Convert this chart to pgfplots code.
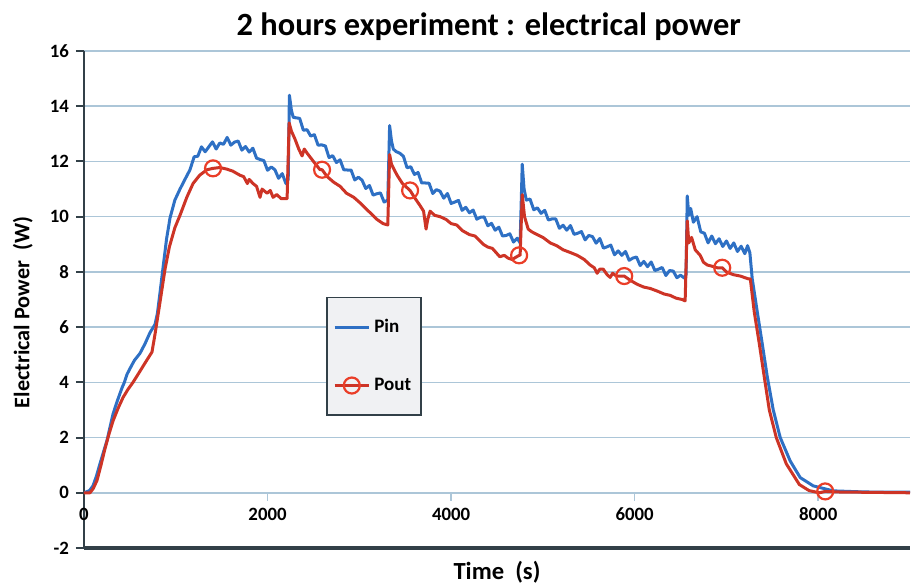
\documentclass[border=0pt]{standalone}
\usepackage{fontspec}
\setmainfont{Carlito}
\usepackage{pgfplots}
\usepackage{pgfplotstable}
\pgfplotsset{compat=1.18}

\definecolor{pinblue}{RGB}{46,112,196}
\definecolor{poutred}{RGB}{205,52,38}
\definecolor{markred}{RGB}{234,62,40}
\definecolor{gridc}{RGB}{172,198,216}
\definecolor{axdark}{RGB}{50,64,72}
\definecolor{legfill}{RGB}{240,241,243}

% Input electrical power (W) against time (s)
\pgfplotstableread{
t p
0 0
60 0.08
98 0.25
135 0.6
174 1.05
210 1.45
251 1.9
285 2.4
316 2.85
360 3.3
414 3.8
440 4.0
470 4.3
501 4.5
550 4.8
610 5.05
665 5.4
719 5.8
774 6.1
800 6.5
830 7.3
870 8.4
900 9.2
937 9.95
990 10.6
1046 11.0
1100 11.35
1155 11.7
1200 12.17
1240 12.19
1280 12.53
1320 12.35
1360 12.53
1400 12.71
1440 12.45
1480 12.67
1520 12.62
1560 12.87
1600 12.59
1640 12.70
1680 12.74
1720 12.41
1760 12.54
1800 12.34
1840 12.48
1880 12.12
1920 12.07
1960 12.03
2000 11.68
2040 11.80
2080 11.70
2120 11.39
2160 11.56
2200 11.2
2225 11.35
2238 14.4
2260 13.85
2280 13.6
2310 13.58
2350 13.56
2390 13.13
2430 13.15
2470 12.92
2510 12.97
2550 12.59
2590 12.60
2630 12.56
2670 12.14
2710 12.21
2750 11.96
2790 12.06
2830 11.70
2870 11.69
2910 11.69
2950 11.33
2990 11.43
3030 11.32
3070 11.02
3110 11.13
3150 10.78
3190 10.83
3230 10.86
3270 10.53
3310 10.6
3330 13.3
3350 12.75
3370 12.45
3400 12.36
3440 12.30
3480 12.19
3520 11.77
3560 11.81
3600 11.53
3640 11.60
3680 11.22
3720 11.22
3760 11.21
3800 10.84
3840 10.98
3880 10.92
3920 10.67
3960 10.84
4000 10.48
4040 10.53
4080 10.59
4120 10.23
4160 10.34
4200 10.14
4240 10.24
4280 9.91
4320 9.98
4360 9.99
4400 9.67
4440 9.76
4480 9.51
4520 9.62
4560 9.30
4600 9.32
4640 9.38
4680 9.08
4720 9.22
4752 9.05
4775 11.9
4795 11.0
4820 10.6
4860 10.64
4900 10.25
4940 10.32
4980 10.12
5020 10.23
5060 9.88
5100 9.92
5140 9.92
5180 9.58
5220 9.69
5260 9.51
5300 9.68
5340 9.36
5380 9.40
5420 9.46
5460 9.16
5500 9.32
5540 9.28
5580 9.04
5620 9.21
5660 8.86
5700 8.91
5740 8.97
5780 8.62
5820 8.76
5860 8.60
5900 8.74
5940 8.42
5980 8.50
6020 8.54
6060 8.23
6100 8.38
6140 8.19
6180 8.36
6220 8.05
6260 8.10
6300 8.16
6340 7.87
6380 8.05
6420 8.03
6460 7.79
6500 7.88
6540 7.78
6560 7.9
6573 10.75
6590 10.05
6610 10.3
6640 9.8
6680 10.0
6720 9.45
6760 9.4
6800 9.05
6840 9.3
6880 9.02
6920 9.2
6960 8.92
7000 9.12
7040 8.85
7080 9.05
7120 8.74
7160 8.93
7200 8.66
7230 8.95
7255 8.7
7281 7.75
7336 6.55
7390 5.4
7445 4.2
7510 3.0
7586 2.0
7695 1.15
7804 0.55
7946 0.25
8164 0.07
8500 0.03
9000 0.02
}\pintable

% Output electrical power (W) against time (s)
\pgfplotstableread{
t p
0 0
65 0.0
100 0.15
142 0.45
185 1.0
229 1.6
270 2.1
316 2.6
370 3.05
425 3.45
480 3.75
534 4.0
600 4.35
665 4.7
741 5.1
774 5.75
800 6.3
828 6.9
860 7.6
883 8.1
930 8.9
990 9.6
1046 10.05
1120 10.7
1188 11.2
1260 11.5
1340 11.7
1406 11.75
1480 11.78
1559 11.72
1620 11.65
1700 11.5
1740 11.45
1780 11.2
1800 11.35
1842 11.2
1880 11.1
1918 10.7
1940 11.0
1995 10.85
2030 10.95
2060 10.7
2100 10.8
2150 10.65
2213 10.65
2235 13.4
2260 13.1
2300 12.8
2340 12.45
2376 12.2
2400 12.45
2431 12.3
2500 12.0
2572 11.7
2594 11.7
2650 11.45
2720 11.25
2790 11.1
2860 10.85
2940 10.7
3008 10.5
3100 10.2
3193 9.9
3258 9.75
3310 9.7
3330 12.25
3350 11.9
3380 11.7
3412 11.5
3470 11.2
3553 10.95
3600 10.7
3662 10.4
3700 10.2
3727 9.55
3745 9.9
3771 10.2
3820 10.05
3880 10.0
3945 9.9
4000 9.75
4060 9.7
4120 9.5
4200 9.35
4260 9.3
4305 9.15
4350 9.0
4400 8.9
4450 8.85
4490 8.7
4530 8.55
4580 8.6
4620 8.5
4665 8.45
4741 8.6
4752 8.6
4775 10.8
4800 10.0
4840 9.55
4880 9.45
4938 9.35
5000 9.25
5080 9.05
5150 8.95
5221 8.8
5300 8.7
5374 8.6
5450 8.45
5515 8.25
5560 8.15
5591 7.95
5620 8.1
5657 8.1
5700 7.9
5733 7.8
5760 7.95
5800 7.85
5886 7.85
5950 7.7
6028 7.55
6100 7.45
6170 7.4
6250 7.3
6320 7.2
6387 7.15
6450 7.05
6518 7.0
6550 6.95
6573 9.85
6590 9.05
6620 9.25
6660 8.8
6714 8.6
6750 8.35
6791 8.25
6850 8.2
6900 8.15
6954 8.15
7000 8.0
7074 7.9
7150 7.85
7238 7.75
7260 7.75
7303 6.55
7358 5.4
7412 4.2
7467 3.0
7543 2.0
7652 1.05
7794 0.3
7900 0.08
8011 0.0
8076 0.05
8200 0.03
9000 0.0
}\pouttable

% Sample points of the output series that carry a circle marker
\pgfplotstableread{
t p
1406 11.75
2594 11.7
3553 10.95
4741 8.6
5886 7.85
6954 8.15
8076 0.05
}\poutmarks

\begin{document}
\begin{tikzpicture}
\begin{axis}[
  name=ax,
  scale only axis,
  width=413pt, height=248.5pt,
  xmin=0, xmax=9000, ymin=-2, ymax=16,
  axis x line=middle,
  axis y line=left,
  x axis line style={draw=gridc, line width=0.8pt, -},
  y axis line style={draw=axdark, line width=1.2pt, -},
  xtick={0,2000,4000,6000,8000},
  ytick={-2,0,2,4,6,8,10,12,14,16},
  hide obscured x ticks=false,
  hide obscured y ticks=false,
  scaled x ticks=false,
  /pgf/number format/1000 sep={},
  /pgf/number format/assume math mode=true,
  ticklabel style={font=\fontsize{9.4}{11}\selectfont\bfseries, text=black},
  x tick style={draw=gridc, line width=0.8pt},
  y tick style={draw=axdark, line width=1pt},
  major tick length=4pt,
  tick align=outside,
  ymajorgrids,
  major grid style={draw=gridc, line width=0.8pt},
  extra y ticks={-2},
  extra y tick labels={},
  extra y tick style={grid=major, major grid style={draw=axdark, line width=1.6pt}},
  title={2 hours experiment : electrical power},
  title style={font=\fontsize{16.2}{18}\selectfont\bfseries, at={(axis description cs:0.49,1)}, anchor=base, yshift=2pt},
  xlabel={Time\ \ (s)},
  xlabel style={font=\fontsize{12.3}{14}\selectfont\bfseries, at={(axis description cs:0.5,-0.0483)}, anchor=center},
  ylabel={Electrical Power\ \ (W)},
  ylabel style={font=\fontsize{11.1}{13}\selectfont\bfseries, at={(axis description cs:-0.074,0.474)}, anchor=center},
  legend style={at={(0.2935,0.5056)}, anchor=north west, fill=legfill, draw=axdark, line width=0.8pt,
    inner xsep=3pt, inner ysep=9pt, row sep=17pt,
    font=\fontsize{9.5}{11}\selectfont\bfseries},
  legend cell align=left,
]
\addplot[pinblue, line width=1.5pt, line join=round] table[x=t, y=p] {\pintable};
\addlegendentry{Pin}
\addplot[poutred, line width=1.5pt, line join=round,
  legend image code/.code={
    \draw[poutred, line width=1.5pt] (0cm,0cm) -- (0.6cm,0cm);
    \draw[markred, line width=1.1pt] (0.3cm,0cm) circle (4pt);
  }] table[x=t, y=p] {\pouttable};
\addlegendentry{Pout}
\addplot[only marks, mark=o, mark size=4pt, mark options={draw=markred, line width=1.1pt}, forget plot]
  table[x=t, y=p] {\poutmarks};
\end{axis}
\pgfresetboundingbox
\path[use as bounding box] ([shift={(-42pt,-19pt)}]ax.south west) rectangle ([shift={(3pt,25.5pt)}]ax.north east);
\end{tikzpicture}
\end{document}
